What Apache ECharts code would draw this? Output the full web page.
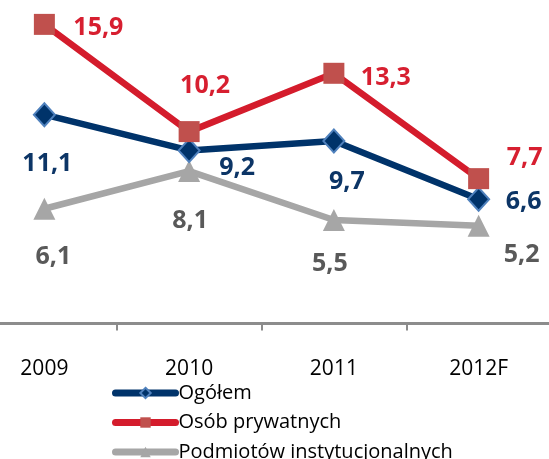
<!DOCTYPE html>
<html>
<head>
<meta charset="utf-8">
<script src="https://cdn.jsdelivr.net/npm/echarts@6/dist/echarts.min.js"></script>
<style>
    html, body { margin: 0; padding: 0; background: #fff; }
    #chart { width: 549px; height: 459px; }
</style>
</head>
<body>
<div id="chart"></div>
<script>
// dane z wykresu
const years = ['2009', '2010', '2011', '2012F'];
const ogolem = [11.1, 9.2, 9.7, 6.6];
const prywatnych = [15.9, 10.2, 13.3, 7.7];
const instytucjonalnych = [6.1, 8.1, 5.5, 5.2];

// przesuniecia etykiet wzgledem punktu (px)
const offOgolem = [[3, 49], [48, 17], [13, 41], [45, 3]];
const offPrywatnych = [[54, 3], [16, -46], [52, 5], [46, -21]];
const offInstyt = [[9, 48], [1, 50], [-4, 44], [43, 29]];

const font = '"Open Sans", "Liberation Sans", sans-serif';

const withLabels = (values, offsets) => values.map((v, i) => ({
    value: v,
    label: { offset: offsets[i] }
}));

const labelStyle = color => ({
    show: true,
    position: 'inside',
    align: 'center',
    verticalAlign: 'middle',
    fontFamily: font,
    fontWeight: 'bold',
    fontSize: 25,
    color: color,
    formatter: p => String(p.value).replace('.', ',')
});

const chart = echarts.init(document.getElementById('chart'), null, { renderer: 'canvas' });

chart.setOption({
    animation: false,
    backgroundColor: '#ffffff',
    grid: { left: -28, right: -2, top: 22.5, bottom: 135.5, outerBoundsMode: 'none' },
    xAxis: {
        type: 'category',
        data: years,
        boundaryGap: true,
        axisLine: { lineStyle: { color: '#8c8c8c', width: 3 } },
        axisTick: { show: true, length: 7, lineStyle: { color: '#8c8c8c', width: 2 } },
        axisLabel: { margin: 35, fontFamily: font, fontSize: 21, color: '#000000' }
    },
    yAxis: {
        type: 'value',
        min: 0,
        max: 16,
        show: false,
        splitLine: { show: false }
    },
    legend: {
        orient: 'vertical',
        left: 112,
        top: 383,
        height: 200,
        padding: 0,
        itemWidth: 60,
        itemHeight: 13,
        itemGap: 9.5,
        lineStyle: { width: 7, cap: 'round' },
        textStyle: { fontFamily: font, fontSize: 20, lineHeight: 17, color: '#000000', padding: [0, 0, 0, -2] },
        data: ['Ogółem', 'Osób prywatnych', 'Podmiotów instytucjonalnych']
    },
    series: [
        {
            name: 'Podmiotów instytucjonalnych',
            type: 'line',
            data: withLabels(instytucjonalnych, offInstyt),
            symbol: 'triangle',
            symbolSize: 22,
            lineStyle: { color: '#a6a6a6', width: 6.5 },
            itemStyle: { color: '#a6a6a6' },
            label: labelStyle('#595959'),
            z: 2
        },
        {
            name: 'Ogółem',
            type: 'line',
            data: withLabels(ogolem, offOgolem),
            symbol: 'diamond',
            symbolSize: [21, 23],
            lineStyle: { color: '#00336a', width: 6.5 },
            itemStyle: { color: '#00336a', borderColor: '#4f81bd', borderWidth: 2 },
            label: labelStyle('#0c3566'),
            z: 3
        },
        {
            name: 'Osób prywatnych',
            type: 'line',
            data: withLabels(prywatnych, offPrywatnych),
            symbol: 'rect',
            symbolSize: 21,
            lineStyle: { color: '#d41c2c', width: 6.5 },
            itemStyle: { color: '#c0504d' },
            label: labelStyle('#d71f30'),
            z: 4
        }
    ]
});
</script>
</body>
</html>
